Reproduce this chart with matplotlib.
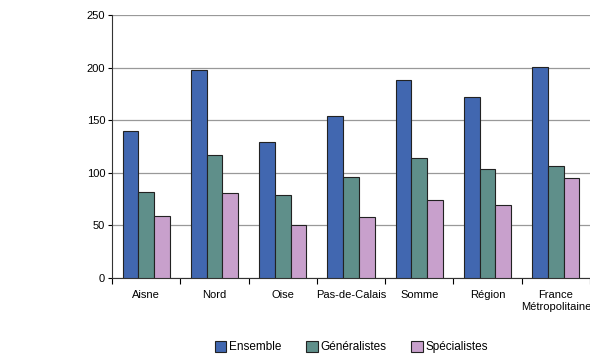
import numpy as np
import matplotlib.pyplot as plt

categories = ['Aisne', 'Nord', 'Oise', 'Pas-de-Calais', 'Somme', 'Région',
              'France\nMétropolitaine']
ensemble = [140, 198, 129, 154, 188, 172, 201]
generalistes = [82, 117, 79, 96, 114, 104, 106]
specialistes = [59, 81, 50, 58, 74, 69, 95]
series_names = ['Ensemble', 'Généralistes', 'Spécialistes']
colors = ['#4167B0', '#5F8F8A', '#C8A0CC']

plt.rcParams['font.family'] = ['Liberation Sans', 'DejaVu Sans']

fig = plt.figure(figsize=(5.90, 3.59), dpi=100)
ax = fig.add_axes([0.19, 0.226, 0.81, 0.732])

x = np.arange(len(categories))
w = 0.23
for i, (vals, name) in enumerate(zip([ensemble, generalistes, specialistes], series_names)):
    ax.bar(x + (i - 1) * w, vals, w, color=colors[i], edgecolor='#222222',
           linewidth=0.8, label=name, zorder=3)

ax.set_xlim(-0.5, len(categories) - 0.5)
ax.set_ylim(0, 250)
ax.set_yticks(range(0, 251, 50))
ax.yaxis.grid(True, color='#999999', linewidth=0.9, zorder=0)
ax.tick_params(axis='y', labelsize=8, length=3, width=0.8, pad=2)

ax.set_xticks(x)
ax.set_xticklabels(categories, fontsize=8, linespacing=1.15)
ax.tick_params(axis='x', length=0, pad=9)
ax.set_xticks(np.arange(-0.5, len(categories), 1), minor=True)
ax.tick_params(axis='x', which='minor', length=4, width=0.8)

for s in ['top', 'right']:
    ax.spines[s].set_visible(False)
for s in ['left', 'bottom']:
    ax.spines[s].set_color('#333333')
    ax.spines[s].set_linewidth(0.8)

ax.legend(loc='upper center', bbox_to_anchor=(0.5, -0.2), ncol=3, frameon=False,
          fontsize=8.5, handlelength=1.0, handleheight=1.0, handletextpad=0.2,
          columnspacing=2.1)

fig.savefig('out.png', dpi=100)
